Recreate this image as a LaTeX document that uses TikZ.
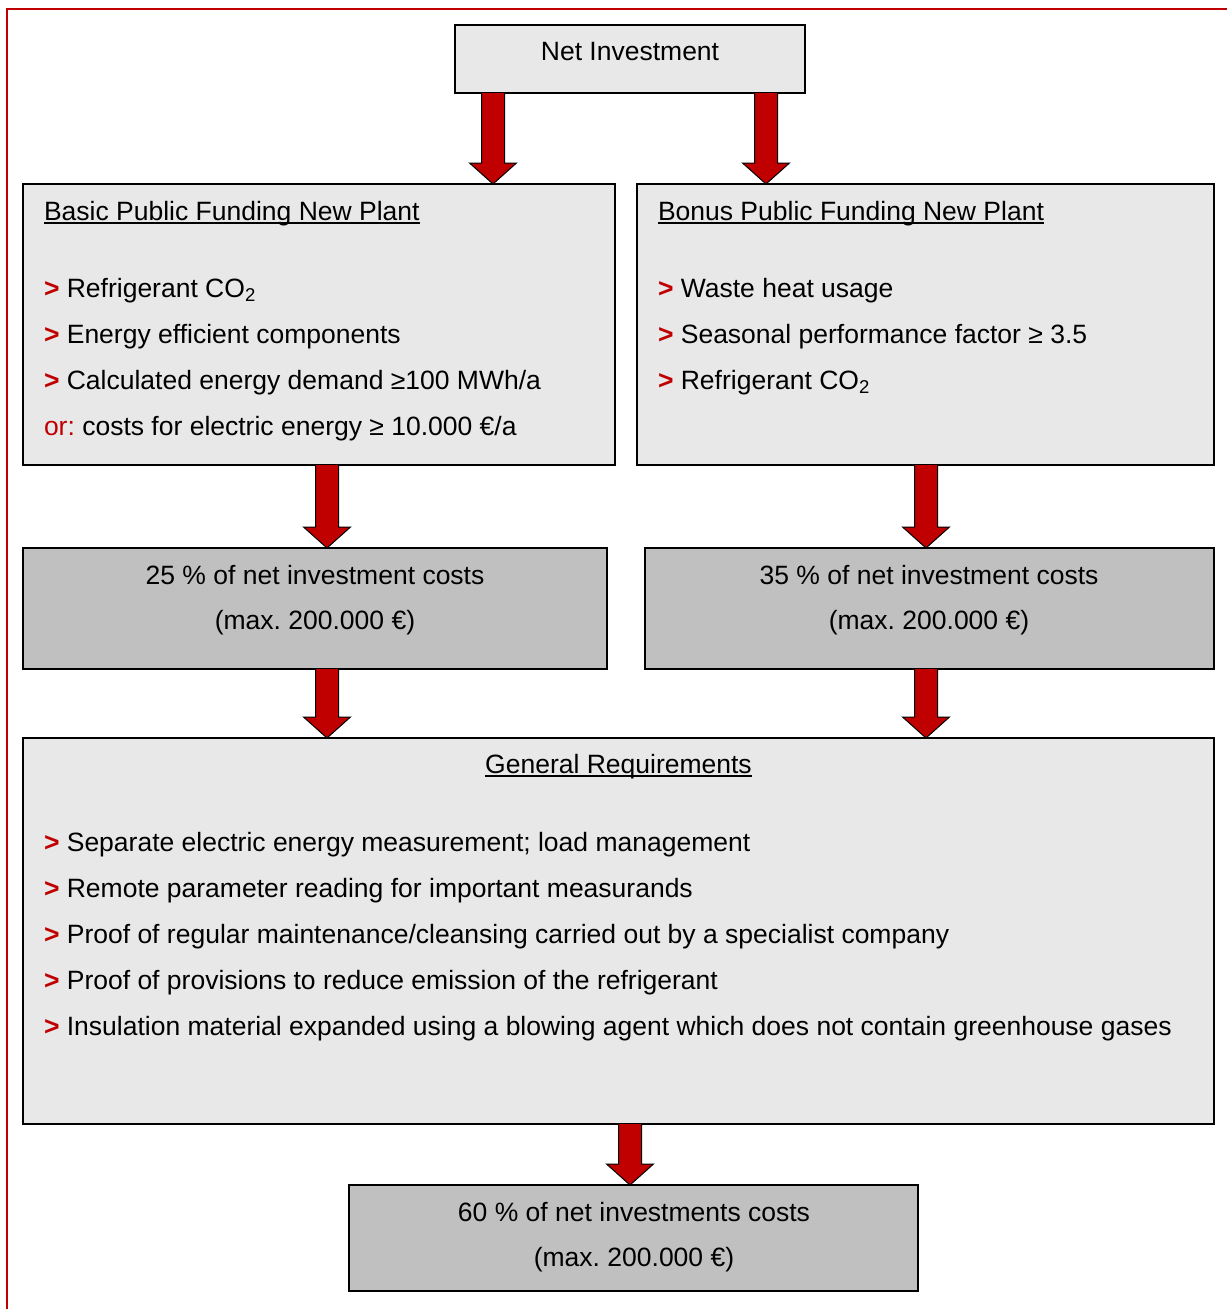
\documentclass[tikz,border=0pt]{standalone}
\usepackage{fontspec}
\setmainfont{Liberation Sans}
\usetikzlibrary{calc}
\definecolor{dred}{HTML}{C00000}
\definecolor{lgray}{HTML}{E8E8E8}
\definecolor{mgray}{HTML}{C0C0C0}
\frenchspacing
\tikzset{
  box/.style={draw=black, line width=1.5pt, anchor=north west, inner sep=0pt, outer sep=0pt},
  lbox/.style={box, fill=lgray},
  dbox/.style={box, fill=mgray},
  txt/.style={anchor=base west, inner sep=0pt, outer sep=0pt, font=\fontsize{26.5}{30}\selectfont\frenchspacing},
  ctxt/.style={txt, anchor=base},
  fatarr/.style={fill=dred, draw=black, line width=1pt, line join=miter},
  uline/.style={line width=1.3pt},
}
\newcommand\bul{\textcolor{dred}{\textbf{>}}}
\newcommand\fatarrow[3]{%
  \coordinate (fax) at (#1,0);
  \coordinate (fa1) at (fax |- #2.south);
  \coordinate (fa2) at (fax |- #3.north);
  \draw[fatarr] ($(fa1)+(-11.5,0)$) -- ($(fa2)+(-11.5,-21)$) -- ($(fa2)+(-23.5,-21)$) -- (fa2)
     -- ($(fa2)+(23.5,-21)$) -- ($(fa2)+(11.5,-21)$) -- ($(fa1)+(11.5,0)$);}
\begin{document}
\begin{tikzpicture}[x=1pt,y=-1pt]
\path[use as bounding box, fill=white] (0,0) rectangle (1227,1309);
\draw[dred, line width=2pt] (7,1309) -- (7,9) -- (1227,9);

% boxes
\node[lbox, minimum width=350, minimum height=68] (net) at (455,25) {};
\node[lbox, minimum width=592, minimum height=281] (basic) at (23,184) {};
\node[lbox, minimum width=577, minimum height=281] (bonus) at (637,184) {};
\node[dbox, minimum width=584, minimum height=121] (p25) at (23,548) {};
\node[dbox, minimum width=569, minimum height=121] (p35) at (645,548) {};
\node[lbox, minimum width=1191, minimum height=386] (gen) at (23,738) {};
\node[dbox, minimum width=569, minimum height=106] (p60) at (349,1185) {};

% arrows
\fatarrow{493}{net}{basic}
\fatarrow{766}{net}{bonus}
\fatarrow{327}{basic}{p25}
\fatarrow{926}{bonus}{p35}
\fatarrow{327}{p25}{gen}
\fatarrow{926}{p35}{gen}
\fatarrow{630}{gen}{p60}

% texts
\node[ctxt] (nettx) at (630,60) {Net Investment};

\node[txt] (bt) at (44,220) {Basic Public Funding New Plant};
\draw[uline] ($(bt.base west)+(0,3)$) -- ($(bt.base east)+(0,3)$);
\node[txt] (b1) at (44,297) {\bul{} Refrigerant CO\textsubscript{2}};
\node[txt] (b2) at (44,343) {\bul{} Energy efficient components};
\node[txt] (b3) at (44,389) {\bul{} Calculated energy demand ≥100 MWh/a};
\node[txt] (b4) at (44,435) {\textcolor{dred}{or:} costs for electric energy ≥ 10.000 €/a};

\node[txt] (ot) at (658,220) {Bonus Public Funding New Plant};
\draw[uline] ($(ot.base west)+(0,3)$) -- ($(ot.base east)+(0,3)$);
\node[txt] (o1) at (658,297) {\bul{} Waste heat usage};
\node[txt] (o2) at (658,343) {\bul{} Seasonal performance factor ≥ 3.5};
\node[txt] (o3) at (658,389) {\bul{} Refrigerant CO\textsubscript{2}};

\node[ctxt] (t25a) at (315,584) {25 \% of net investment costs};
\node[ctxt] (t25b) at (315,629) {(max. 200.000 €)};
\node[ctxt] (t35a) at (929,584) {35 \% of net investment costs};
\node[ctxt] (t35b) at (929,629) {(max. 200.000 €)};

\node[ctxt] (gt) at (618.5,773) {General Requirements};
\draw[uline] ($(gt.base west)+(0,3)$) -- ($(gt.base east)+(0,3)$);
\node[txt] (g1) at (44,851) {\bul{} Separate electric energy measurement; load management};
\node[txt] (g2) at (44,897) {\bul{} Remote parameter reading for important measurands};
\node[txt] (g3) at (44,943) {\bul{} Proof of regular maintenance/cleansing carried out by a specialist company};
\node[txt] (g4) at (44,989) {\bul{} Proof of provisions to reduce emission of the refrigerant};
\node[txt] (g5) at (44,1035) {\bul{} Insulation material expanded using a blowing agent which does not contain greenhouse gases};

\node[ctxt] (t60a) at (634,1221) {60 \% of net investments costs};
\node[ctxt] (t60b) at (634,1266) {(max. 200.000 €)};
\end{tikzpicture}
\end{document}
